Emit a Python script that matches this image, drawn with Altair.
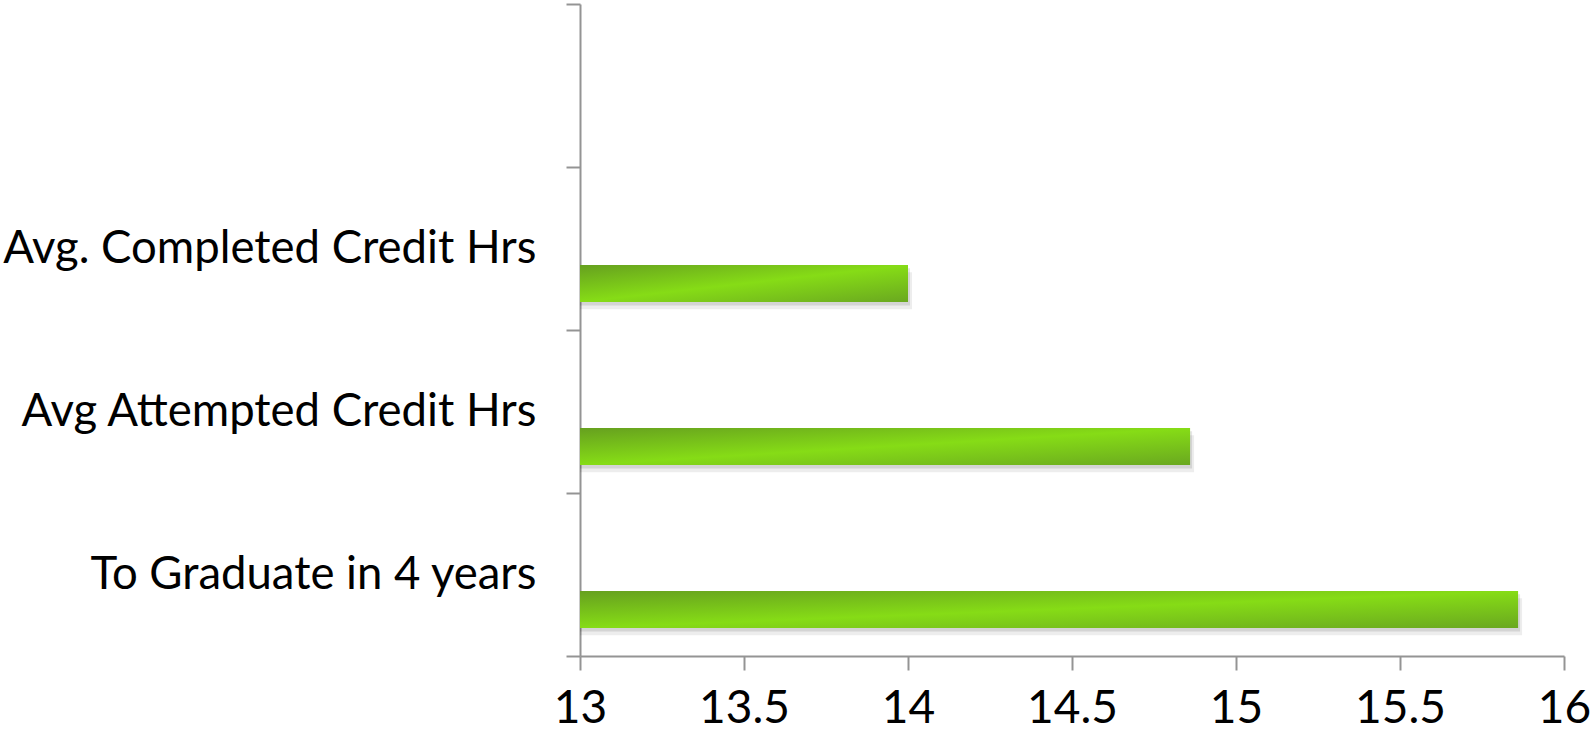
import altair as alt
import pandas as pd

categories = ["Avg. Completed Credit Hrs", "Avg Attempted Credit Hrs", "To Graduate in 4 years"]
values = [14.0, 14.86, 15.86]
series = ["Credit Hrs", "Credit Hrs", "Credit Hrs"]

y_domain = [" "] + categories
offset_domain = ["(none)", "Credit Hrs"]
x_ticks = [13, 13.5, 14, 14.5, 15, 15.5, 16]

df = pd.DataFrame({"category": categories, "value": values, "series": series})

FONT = "Lato"
AXIS_GRAY = "#949494"

gradient = alt.Gradient(
    gradient="linear",
    x1=0, y1=0, x2=1, y2=1,
    stops=[
        alt.GradientStop(color="#66a01f", offset=0),
        alt.GradientStop(color="#86dc16", offset=0.5),
        alt.GradientStop(color="#6aa820", offset=1),
    ],
)

x_enc = alt.X(
    "value:Q",
    scale=alt.Scale(domain=[13, 16], zero=False, nice=False),
    axis=alt.Axis(
        title=None, values=x_ticks, format=".1~f", grid=False,
        domainColor=AXIS_GRAY, domainWidth=2, tickColor=AXIS_GRAY, tickWidth=2,
        tickSize=14, labelFontSize=46, labelFont=FONT, labelColor="#000000",
        labelPadding=16, labelFlush=False,
    ),
)
y_enc = alt.Y(
    "category:N",
    scale=alt.Scale(domain=y_domain, paddingInner=0, paddingOuter=0),
    axis=alt.Axis(
        title=None, grid=False, tickBand="extent",
        domainColor=AXIS_GRAY, domainWidth=2, tickColor=AXIS_GRAY, tickWidth=2,
        tickSize=14, labelFontSize=45.5, labelFont=FONT, labelColor="#000000",
        labelPadding=30, labelLimit=800,
    ),
)


def yoff(align):
    return alt.YOffset(
        "series:N",
        scale=alt.Scale(domain=offset_domain, paddingInner=0.47, paddingOuter=0.4, align=align),
    )


shadow1 = alt.Chart(df).mark_bar(color="#000000", opacity=0.10, xOffset=2).encode(
    x=x_enc, x2=alt.datum(13), y=y_enc, yOffset=yoff(0.56)
)
shadow2 = alt.Chart(df).mark_bar(color="#000000", opacity=0.07, xOffset=4).encode(
    x=x_enc, x2=alt.datum(13), y=y_enc, yOffset=yoff(0.63)
)
bars = alt.Chart(df).mark_bar(fill=gradient).encode(
    x=x_enc, x2=alt.datum(13), y=y_enc, yOffset=yoff(0.5)
)

chart = alt.layer(shadow2, shadow1, bars).resolve_scale(yOffset="independent").properties(
    width=984, height=652,
    autosize=alt.AutoSizeParams(type="none"),
    padding={"left": 580, "top": 4, "right": 27, "bottom": 82},
).configure_view(stroke=None)

chart.save("out.html", embed_options={"renderer": "svg", "actions": False})
